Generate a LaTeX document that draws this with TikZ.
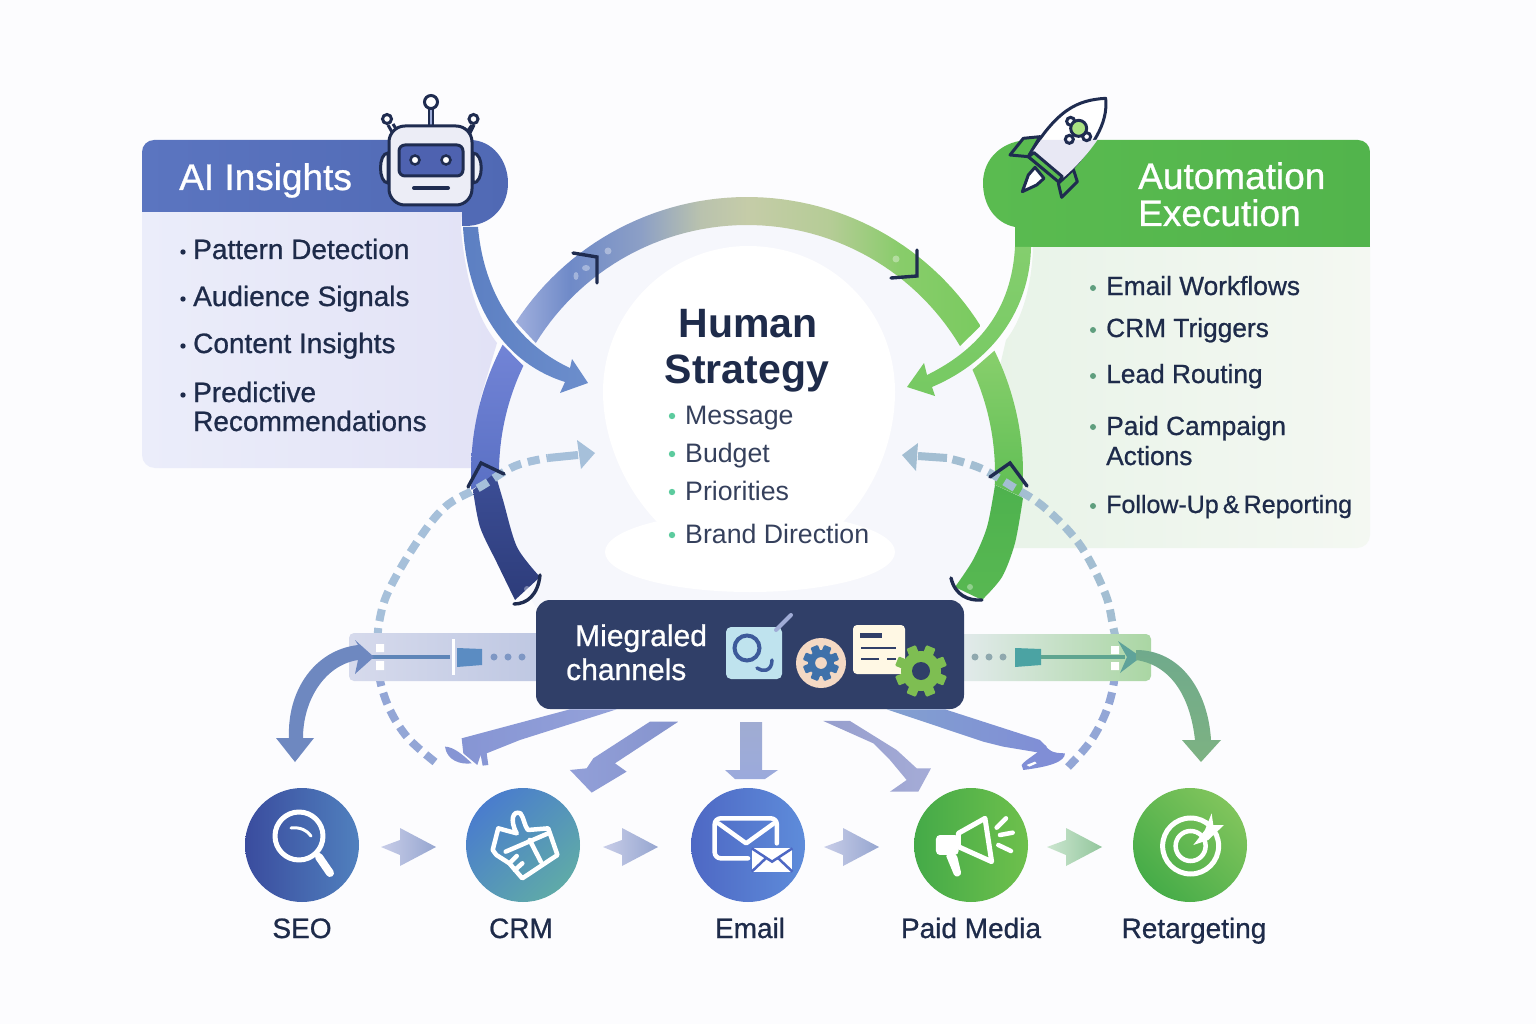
\documentclass[tikz,border=0pt]{standalone}
\usepackage{fontspec}
\setmainfont{Liberation Sans}
\newfontfamily\medf[FakeBold=0.8]{Liberation Sans}
\usetikzlibrary{arrows.meta,calc}
\definecolor{bgc}{HTML}{FCFCFE}
\definecolor{ink}{HTML}{1E2B4A}
\definecolor{inkb}{HTML}{1F2C50}
\definecolor{barc}{HTML}{303F68}
\definecolor{aihead}{HTML}{5B75C0}
\definecolor{aihead2}{HTML}{5069B4}
\definecolor{aipanel}{HTML}{EBEDFA}
\definecolor{aipanel2}{HTML}{E2E2F6}
\definecolor{grhead}{HTML}{52B44C}
\definecolor{grhead2}{HTML}{5ABB50}
\definecolor{grpanel}{HTML}{E8F3E8}
\definecolor{grpanel2}{HTML}{F4F8F2}
\definecolor{disc}{HTML}{F6F7FC}
\definecolor{dashb}{HTML}{93A6D6}
\definecolor{dashu}{HTML}{A6C0DA}
\definecolor{dashr}{HTML}{A3BED2}
\definecolor{leafb}{HTML}{8695D4}
\definecolor{cogblue}{HTML}{3E71AA}
\definecolor{peach}{HTML}{F4D9C4}
\definecolor{coggreen}{HTML}{7EBE52}
\definecolor{stepa}{HTML}{C8CDE8}
\definecolor{stepb}{HTML}{96A6D0}
\definecolor{stepc}{HTML}{CCE6D0}
\definecolor{stepd}{HTML}{92C69C}
\definecolor{arca}{HTML}{A0AFDD}
\definecolor{arcb}{HTML}{6F8AC8}
\definecolor{arcc}{HTML}{8C9FC6}
\definecolor{arcd}{HTML}{B9C2AE}
\definecolor{arce}{HTML}{C5CCA8}
\definecolor{arcf}{HTML}{B5CC96}
\definecolor{arcg}{HTML}{88CC6A}
\definecolor{arch}{HTML}{7ACB60}
\pgfdeclarehorizontalshading{toparc}{100bp}{color(0bp)=(arca); color(25bp)=(arca); color(30.8bp)=(arcb); color(38.4bp)=(arcc); color(44.8bp)=(arcd); color(49.9bp)=(arce); color(58.8bp)=(arcf); color(66.4bp)=(arcg); color(75bp)=(arch); color(100bp)=(arch)}
\tikzset{
  x=1pt,y=-1pt,
  lefttext/.style={font=\fontsize{28}{30}\selectfont\medf,text=ink,anchor=base west,inner sep=0pt},
  righttext/.style={font=\fontsize{26.3}{30}\selectfont\medf,text=ink,anchor=base west,inner sep=0pt},
  midtext/.style={font=\fontsize{26.7}{30}\selectfont,text=ink!90,anchor=base west,inner sep=0pt},
  headtext/.style={font=\fontsize{37}{37}\selectfont\medf,text=white,anchor=base west,inner sep=0pt},
  bartext/.style={font=\fontsize{30}{34}\selectfont\medf,text=white,anchor=base west,inner sep=0pt},
  chanlabel/.style={font=\fontsize{28}{30}\selectfont\medf,text=ink,inner sep=0pt,anchor=base},
  bigtext/.style={font=\fontsize{41}{46}\selectfont\bfseries,text=ink,inner sep=0pt,anchor=base},
  chan/.style={circle,minimum size=114pt,inner sep=0pt},
  chev/.style={draw=inkb,line width=3.4pt,line join=miter,line cap=round},
  icon/.style={draw=white,line width=4.5pt,line cap=round,line join=round},
  dashline/.style={line width=8pt,dash pattern=on 12pt off 7pt},
  sheen/.style={fill=white,fill opacity=.35}
}
\newcommand{\ringpart}[5]{\shade[#1] plot[domain=#2:#3,samples=30] ({747+276*cos(\x)},{473-276*sin(\x)}) -- plot[domain=#4:#5,samples=30] ({747+248*cos(\x)},{473-248*sin(\x)}) -- cycle;}
\newcommand{\cogwheel}[7]{%
  \fill[#6] (#1,#2) circle (#3pt);
  \foreach \ang in {0,45,...,135}{
    \fill[#6,rotate around={\ang+22.5:(#1,#2)},rounded corners=1pt] ({#1-#5},{#2-#4}) rectangle ({#1+#5},{#2+#4});
  }
  \fill[#7] (#1,#2) circle ({#3*0.45pt});
}
\newcommand{\stepmark}[3]{\shade[left color=#2,right color=#3,xshift=#1pt] (0,847) -- (19,840) -- (19,828) -- (55,847) -- (19,866) -- (19,855) -- cycle;}
\begin{document}
\begin{tikzpicture}
\useasboundingbox (0,0) rectangle (1536,1024);
\fill[bgc] (0,0) rectangle (1536,1024);

% inner disc
\begin{scope}
\clip (0,0) rectangle (1536,606);
\fill[disc] (747,473) circle (250pt);
\end{scope}
\fill[white] (603,392) .. controls (603,310) and (670,246) .. (748,246)
  .. controls (830,246) and (895,310) .. (895,392)
  .. controls (895,440) and (875,490) .. (840,525) -- (660,525)
  .. controls (625,490) and (603,440) .. (603,392) -- cycle;
\fill[white] (750,552) ellipse [x radius=145pt,y radius=40pt];

% side panels
\shade[left color=aipanel,right color=aipanel2,rounded corners=0pt]
  (142,212) -- (462,212) -- (461,230) .. controls (468,300) and (484,326) .. (497,343)
  -- (480,400) -- (475,468) -- (155,468) [rounded corners=13pt] -- (142,468) [rounded corners=0pt] -- cycle;
\shade[left color=grpanel,right color=grpanel2]
  (1033,247) -- (1370,247) [rounded corners=13pt] -- (1370,548) [rounded corners=0pt] -- (1002,548)
  -- (992,400) -- (1006,340) .. controls (1022,320) and (1032,285) .. (1033,247) -- cycle;

% tab headers
\shade[left color=aihead,right color=aihead2]
  (155,140) -- (470,140) .. controls (492,140) and (508,160) .. (508,183)
  .. controls (508,208) and (490,226) .. (465,226) -- (462,226) -- (462,212) -- (142,212)
  [rounded corners=12pt] -- (142,140) [rounded corners=0pt] -- cycle;
\shade[left color=grhead2,right color=grhead]
  (1030,140) -- (1358,140) [rounded corners=12pt] -- (1370,140) [rounded corners=0pt] -- (1370,247) -- (1015,247)
  -- (1015,227) .. controls (995,223) and (983,205) .. (983,183)
  .. controls (983,158) and (1003,140) .. (1030,140) -- cycle;

% ring
\definecolor{ringa}{HTML}{7284D6}
\definecolor{ringb}{HTML}{5A70C4}
\definecolor{ringc}{HTML}{88CF6C}
\definecolor{ringd}{HTML}{5FBE54}
\ringpart{top color=ringa,bottom color=ringb}{152.3}{183.5}{180}{154.4}
\ringpart{top color=ringc,bottom color=ringd}{26.3}{-5}{-2.7}{24.6}
\shade[shading=toparc]
  plot[domain=146.8:32.2,samples=60] ({747+276*cos(\x)},{473-276*sin(\x)}) -- plot[domain=30.8:148.4,samples=60] ({747+248*cos(\x)},{473-248*sin(\x)}) -- cycle;
\shade[top color={rgb,255:red,60;green,78;blue,150},bottom color={rgb,255:red,45;green,60;blue,122}]
  plot[smooth] coordinates {(473,490) (480,527) (497,563) (515,600)} -- plot[smooth] coordinates {(540,577) (517,547) (503,500) (495,473)} -- cycle;
\shade[top color={rgb,255:red,78;green,178;blue,78},bottom color={rgb,255:red,88;green,184;blue,82}]
  plot[smooth] coordinates {(1023,498) (1015,543) (1002,577) (982,600)} -- plot[smooth] coordinates {(955,587) (973,560) (987,527) (995,485)} -- cycle;

% sheen marks on the ring
\fill[sheen] (608,251) circle (3.5pt) (586,268) ellipse [x radius=4pt,y radius=3pt] (576,276) ellipse [x radius=2.5pt,y radius=4pt] (896,259) circle (3.5pt);
\fill[sheen] (527,589) circle (3pt) (970,587) circle (3pt);

% insight arrows into the centre
\definecolor{arwa}{HTML}{5C7FC2}
\definecolor{arwb}{HTML}{6C8ECC}
\definecolor{arwc}{HTML}{84CE6E}
\definecolor{arwd}{HTML}{76C962}
\shade[left color=arwa,right color=arwb]
  (463,227) -- (478,227) .. controls (483,285) and (510,340) .. (570,368)
  -- (572,359) -- (588,383) -- (560,393) -- (565,382) .. controls (508,364) and (468,312) .. (463,227) -- cycle;
\shade[top color=arwc,bottom color=arwd]
  (1015,247) -- (1031,247) .. controls (1030,302) and (1000,358) .. (932,387)
  -- (935,396) -- (907,387) -- (924,363) -- (927,375) .. controls (988,345) and (1012,300) .. (1015,247) -- cycle;

% dashed feedback curves
\draw[dashline,dashb] plot[smooth,tension=.6] coordinates {(435,762) (408,738) (390,710) (380,680) (378,650)};
\draw[dashline,dashu] plot[smooth,tension=.6] coordinates {(378,640) (379,623) (388,592) (415,545) (445,507) (480,487) (515,466) (548,458)};
\draw[dashu,line width=8pt] (548,458) -- (578,455);
\fill[dashu] (577,440) -- (595,453) -- (581,469) -- cycle;
\draw[dashline,dashb] plot[smooth,tension=.6] coordinates {(1068,767) (1090,742) (1106,712) (1114,682) (1116,650)};
\draw[dashline,dashr] plot[smooth,tension=.6] coordinates {(1116,640) (1113,626) (1105,593) (1080,545) (1045,508) (1013,487) (980,468) (947,458)};
\draw[dashr,line width=8pt] (947,458) -- (918,456);
\fill[dashr] (918,443) -- (902,455) -- (916,471) -- cycle;

% chevrons on the ring
\draw[chev] (573,253) -- (597,257) -- (597,283);
\draw[chev] (891,278) -- (917,276) -- (917,250);
\draw[chev] (468,487) -- (481,463) -- (504,474);
\draw[chev] (990,477) -- (1010,463) -- (1027,486);
\draw[chev] (514,604) .. controls (527,604) and (538,595) .. (540,575);
\draw[chev] (951,578) .. controls (955,595) and (968,601) .. (982,600);

% side bars
\shade[left color={rgb,255:red,214;green,218;blue,236},right color={rgb,255:red,190;green,199;blue,226},rounded corners=5pt] (349,633) rectangle (545,681);
\shade[left color={rgb,255:red,228;green,235;blue,238},right color={rgb,255:red,170;green,214;blue,163},rounded corners=5pt] (955,634) rectangle (1151,681);
\fill[white] (376,644) rectangle (384,652) (376,661) rectangle (384,670);
\fill[white] (1111,646) rectangle (1119,654) (1111,662) rectangle (1119,670);
\coordinate (lfrom) at (372,657); \coordinate (lto) at (450,657);
\draw[line width=4pt,color={rgb,255:red,94;green,133;blue,184}] (lfrom) -- (lto);
\draw[white,line width=3pt] (453,639) -- (453,675);
\fill[color={rgb,255:red,91;green,140;blue,194}] (457,648) -- (482,649) -- (482,665) -- (457,667) -- cycle;
\foreach \px in {494,508,522}{\fill[color={rgb,255:red,126;green,151;blue,196}] (\px,657) circle (3.5pt);}
\foreach \px in {975,989,1003}{\fill[color={rgb,255:red,143;green,168;blue,174}] (\px,657) circle (3.5pt);}
\fill[color={rgb,255:red,75;green,163;blue,163}] (1015,648) -- (1041,649) -- (1041,665) -- (1015,667) -- cycle;
\coordinate (rfrom) at (1041,657); \coordinate (rto) at (1125,657);
\draw[line width=4pt,color={rgb,255:red,95;green,165;blue,144}] (rfrom) -- (rto);

% outer curved arrows
\shade[left color={rgb,255:red,110;green,136;blue,192},right color={rgb,255:red,110;green,136;blue,192}]
  (358,645) -- (355,640) -- (374,657) -- (355,674) -- (358,660)
  .. controls (325,665) and (303,700) .. (303,738) -- (314,738) -- (295,762) -- (276,738) -- (289,738)
  .. controls (287,690) and (315,650) .. (358,645) -- cycle;
\fill[color={rgb,255:red,95;green,163;blue,154}]
  (1118,641) -- (1141,657) -- (1120,673) -- (1127,657) -- cycle;
\shade[top color={rgb,255:red,112;green,170;blue,140},bottom color={rgb,255:red,125;green,178;blue,130}]
  (1136,650) .. controls (1180,650) and (1208,690) .. (1211,740) -- (1221,740) -- (1201,762) -- (1182,740) -- (1195,740)
  .. controls (1190,695) and (1170,665) .. (1136,660) -- cycle;

% channel bar
\node[fill=barc,rounded corners=14pt,minimum width=428pt,minimum height=109pt,inner sep=0pt] (bar) at (750,654.5) {};
\node[bartext] (barlabela) at (575,646) {Miegraled};
\node[bartext] (barlabelb) at (566,680) {channels};

% bar icons
\fill[color={rgb,255:red,191;green,227;blue,238},rounded corners=5pt] (726,627) rectangle (782,679);
\draw[color={rgb,255:red,61;green,90;blue,154},line width=4pt] (747,648) circle (12.5pt);
\draw[color={rgb,255:red,61;green,90;blue,154},line width=3.5pt,line cap=round] (772,660) .. controls (772,672) and (762,672) .. (757,668);
\draw[color={rgb,255:red,160;green,172;blue,214},line width=4pt,line cap=round] (776,630) -- (791,615);
\fill[peach] (821,663) circle (25pt);
\cogwheel{821}{663}{13}{18}{4}{cogblue}{peach}
\fill[color={rgb,255:red,255;green,248;blue,228},rounded corners=4pt] (853,625) rectangle (905,674);
\fill[barc] (860,633) rectangle (882,638);
\draw[barc,line width=2.6pt] (861,648) -- (896,648) (861,659) -- (879,659) (887,659) -- (896,659);
\cogwheel{921}{671}{20}{26}{5}{coggreen}{barc}

% channel nodes
\node[chan,left color={rgb,255:red,58;green,76;blue,158},right color={rgb,255:red,80;green,128;blue,190}] (seo) at (302,845) {};
\node[chan,left color={rgb,255:red,74;green,125;blue,205},right color={rgb,255:red,95;green,170;blue,168},shading angle=45] (crm) at (523,845) {};
\node[chan,left color={rgb,255:red,78;green,104;blue,196},right color={rgb,255:red,94;green,140;blue,218}] (email) at (748,845) {};
\node[chan,left color={rgb,255:red,68;green,170;blue,72},right color={rgb,255:red,110;green,192;blue,76}] (paid) at (971,845) {};
\node[chan,left color={rgb,255:red,70;green,172;blue,72},right color={rgb,255:red,128;green,196;blue,92},shading angle=135] (retarget) at (1190,845) {};
\stepmark{381}{stepa}{stepb}
\stepmark{603}{stepa}{stepb}
\stepmark{824}{stepa}{stepb}
\stepmark{1047}{stepc}{stepd}

\node[chanlabel] (seol) at (302,938) {SEO};
\node[chanlabel] (crml) at (521,938) {CRM};
\node[chanlabel] (emaill) at (750,938) {Email};
\node[chanlabel] (paidl) at (971,938) {Paid Media};
\node[chanlabel] (retl) at (1194,938) {Retargeting};

% leaf arrows below the bar
\begin{scope}[shift={(340,590)},x=.3333pt,y=-.3333pt]
\shade[left color=leafb,right color=leafb!88!white]
  (690,358) -- (830,358) -- (540,450) -- (440,490) -- (445,525) -- (428,527) -- (422,495) -- (412,525) -- (370,490) -- (365,445) -- cycle;
\fill[leafb] (315,470) .. controls (340,470) and (370,495) .. (395,520) .. controls (360,525) and (320,510) .. (315,470) -- cycle;
\shade[left color=leafb!90!white,right color=leafb!92!gray]
  (930,395) -- (1015,395) -- (825,520) -- (860,545) -- (755,608) -- (690,540) -- (740,535) -- (760,505) -- cycle;
\end{scope}
\shade[top color={rgb,255:red,160;green,172;blue,210},bottom color={rgb,255:red,155;green,170;blue,220}]
  (740,722) -- (762,722) -- (762,770) -- (778,770) -- (765,779) -- (735,779) -- (725,770) -- (740,770) -- cycle;
\begin{scope}[shift={(750,590)},x=.3333pt,y=-.3333pt]
\shade[left color={rgb,255:red,150;green,158;blue,205},right color={rgb,255:red,165;green,172;blue,215}]
  (220,393) -- (300,393) -- (440,480) -- (500,535) -- (543,535) -- (505,605) -- (420,605) -- (470,570) -- (420,510) -- (370,460) -- cycle;
\shade[left color={rgb,255:red,130;green,160;blue,208},right color={rgb,255:red,128;green,142;blue,214}]
  (410,358) -- (585,358) -- (870,450) -- (890,470) -- (880,490) -- (760,470) -- (700,455) -- cycle;
\fill[color={rgb,255:red,128;green,142;blue,214}] (815,525) .. controls (830,505) and (860,495) .. (885,465) .. controls (895,480) and (905,490) .. (945,490) .. controls (945,515) and (900,530) .. (820,540) -- cycle;
\fill[white] (830,525) -- (855,515) -- (860,520) -- (838,530) -- cycle;
\end{scope}

% robot
\draw[inkb,line width=3pt,fill=white!70!aihead!35!white] (388,153) .. controls (378,153) and (378,183) .. (388,183) -- cycle;
\draw[inkb,line width=3pt,fill=white!70!aihead!35!white] (473,153) .. controls (484,153) and (484,183) .. (473,183) -- cycle;
\draw[inkb,line width=6pt] (431,126) -- (431,108);
\draw[color=aihead!60!white,line width=2pt] (431,126) -- (431,108);
\draw[inkb,line width=3pt,line join=round] (388,125) -- (397,141) (393,124) -- (400,135);
\draw[inkb,line width=3pt,line join=round] (474,125) -- (466,141) (472,125) -- (464,136);
\draw[inkb,line width=3pt,fill=white] (431,102) circle (6.5pt);
\draw[inkb,line width=3pt,fill=white] (387,119) circle (4.5pt);
\draw[inkb,line width=3pt,fill=white] (473.5,119) circle (4.5pt);
\draw[inkb,line width=3pt,fill={rgb,255:red,236;green,237;blue,246},rounded corners=16pt] (389,126) rectangle (472,205);
\draw[inkb,line width=3pt,fill={rgb,255:red,78;green,98;blue,176},rounded corners=6pt] (399,145) rectangle (463,176);
\draw[inkb,line width=2.5pt,fill=white] (415,160) circle (4.5pt);
\draw[inkb,line width=2.5pt,fill=white] (446,160) circle (4.5pt);
\draw[inkb,line width=4pt,line cap=round] (414,188) -- (448,188);

% rocket
\begin{scope}[shift={(960,80)},x=.3333pt,y=-.3333pt]
\draw[inkb,line width=3pt,line join=round,fill=white] (187,335) -- (205,285) -- (225,262) -- (252,295) -- (230,315) -- cycle;
\draw[inkb,line width=3pt,line join=round,fill=grhead2] (150,225) -- (190,175) -- (240,170) -- (205,230) -- cycle;
\draw[inkb,line width=3pt,line join=round,fill=grhead2] (295,310) -- (340,268) -- (352,305) -- (305,352) -- cycle;
\draw[inkb,line width=3pt,line join=round,fill=white] (437,55) .. controls (350,60) and (290,90) .. (205,230)
  -- (298,305) .. controls (400,205) and (445,130) .. (437,55) -- cycle;
\fill[color={rgb,255:red,232;green,232;blue,244}] (243,180) -- (412,180) .. controls (385,220) and (345,265) .. (298,303) -- (208,230) -- cycle;
\draw[inkb,line width=3pt,line join=round,fill=grhead2] (205,230) -- (222,218) -- (307,290) -- (296,306) -- cycle;
\draw[inkb,line width=3pt] (332,124) circle (4pt) (328,178) circle (4pt) (380,170) circle (4pt);
\draw[inkb,line width=3pt,fill={rgb,255:red,170;green,226;blue,130}] (356,145) circle (8pt);
\end{scope}

% headings and lists
\node[headtext] (aititle) at (179,190) {AI Insights};
\node[headtext] (autotitlea) at (1138,189) {Automation};
\node[headtext] (autotitleb) at (1138,226) {Execution};
\foreach \py in {252,299,346,395}{\fill[ink] (183,\py) circle (2.7pt);}
\node[lefttext] (l1) at (193,259) {Pattern Detection};
\node[lefttext] (l2) at (193,306) {Audience Signals};
\node[lefttext] (l3) at (193,353) {Content Insights};
\node[lefttext] (l4a) at (193,402) {Predictive};
\node[lefttext] (l4b) at (193,431) {Recommendations};
\foreach \py in {288,330,376,427,506}{\fill[color={rgb,255:red,95;green,158;blue,126}] (1093,\py) circle (3pt);}
\node[righttext] (r1) at (1106,295) {Email Workflows};
\node[righttext] (r2) at (1106,337) {CRM Triggers};
\node[righttext] (r3) at (1106,383) {Lead Routing};
\node[righttext] (r4a) at (1106,435) {Paid Campaign};
\node[righttext] (r4b) at (1106,465) {Actions};
\node[righttext,font=\fontsize{25}{30}\selectfont\medf] (r5) at (1106,513) {Follow-Up\,\&\,Reporting};

\node[bigtext] (humana) at (748,337) {Human};
\node[bigtext] (humanb) at (747,383) {Strategy};
\foreach \py in {416,454,492,535}{\fill[color={rgb,255:red,92;green,203;blue,158}] (672,\py) circle (3.2pt);}
\node[midtext] (c1) at (685,424) {Message};
\node[midtext] (c2) at (685,462) {Budget};
\node[midtext] (c3) at (685,500) {Priorities};
\node[midtext] (c4) at (685,543) {Brand Direction};

% SEO icon
\draw[icon,line width=5pt] (299,836) circle (24pt);
\draw[icon,line width=8pt] (319,857) -- (330,873);
\draw[icon,line width=3pt] (291,828) .. controls (300,827) and (307,830) .. (311,836);
% CRM icon
\begin{scope}[shift={(230,780)},x=.37pt,y=-.3333pt]
\draw[icon] (710,210) -- (725,145) -- (775,160) .. controls (755,120) and (765,90) .. (785,100) .. controls (795,115) and (795,135) .. (805,150) -- (860,145) -- (885,225) -- (790,295) -- (755,250) -- (720,225) -- cycle;
\draw[icon] (745,215) -- (860,160) (810,180) -- (840,245) (755,250) -- (775,228) (770,270) -- (790,250);
\end{scope}
% Email icon
\begin{scope}[shift={(230,780)},x=.37pt,y=-.3333pt]
\draw[icon,rounded corners=6pt] (1478,190) -- (1478,115) -- (1310,115) -- (1310,235) -- (1400,235);
\draw[icon] (1320,130) -- (1395,190) -- (1470,130);
\fill[white] (1410,205) rectangle (1520,275);
\draw[color={rgb,255:red,78;green,104;blue,196},line width=2.5pt] (1410,205) -- (1465,245) -- (1520,205) (1410,275) -- (1450,233) (1520,275) -- (1480,233);
\end{scope}
% Paid media icon
\begin{scope}[shift={(800,780)},x=.3333pt,y=-.3333pt]
\draw[icon,line width=5pt] (475,160) -- (555,115) -- (575,245) -- (475,200) -- cycle;
\fill[white,rounded corners=4pt] (408,165) rectangle (476,225);
\fill[white,rounded corners=3pt] (436,222) -- (470,222) -- (485,285) -- (465,292) -- cycle;
\draw[icon,line width=4.5pt] (590,143) -- (618,115) (600,165) -- (638,158) (595,195) -- (633,213);
\end{scope}
% Target icon
\begin{scope}[shift={(800,780)},x=.3333pt,y=-.3333pt]
\draw[white,line width=5pt] (1172,198) circle (28pt);
\draw[white,line width=4.5pt] (1172,198) circle (15pt);
\fill[white] (1235,100) -- (1240,135) -- (1272,135) -- (1225,180) -- (1180,195) -- (1215,150) -- cycle;
\end{scope}
\end{tikzpicture}
\end{document}
